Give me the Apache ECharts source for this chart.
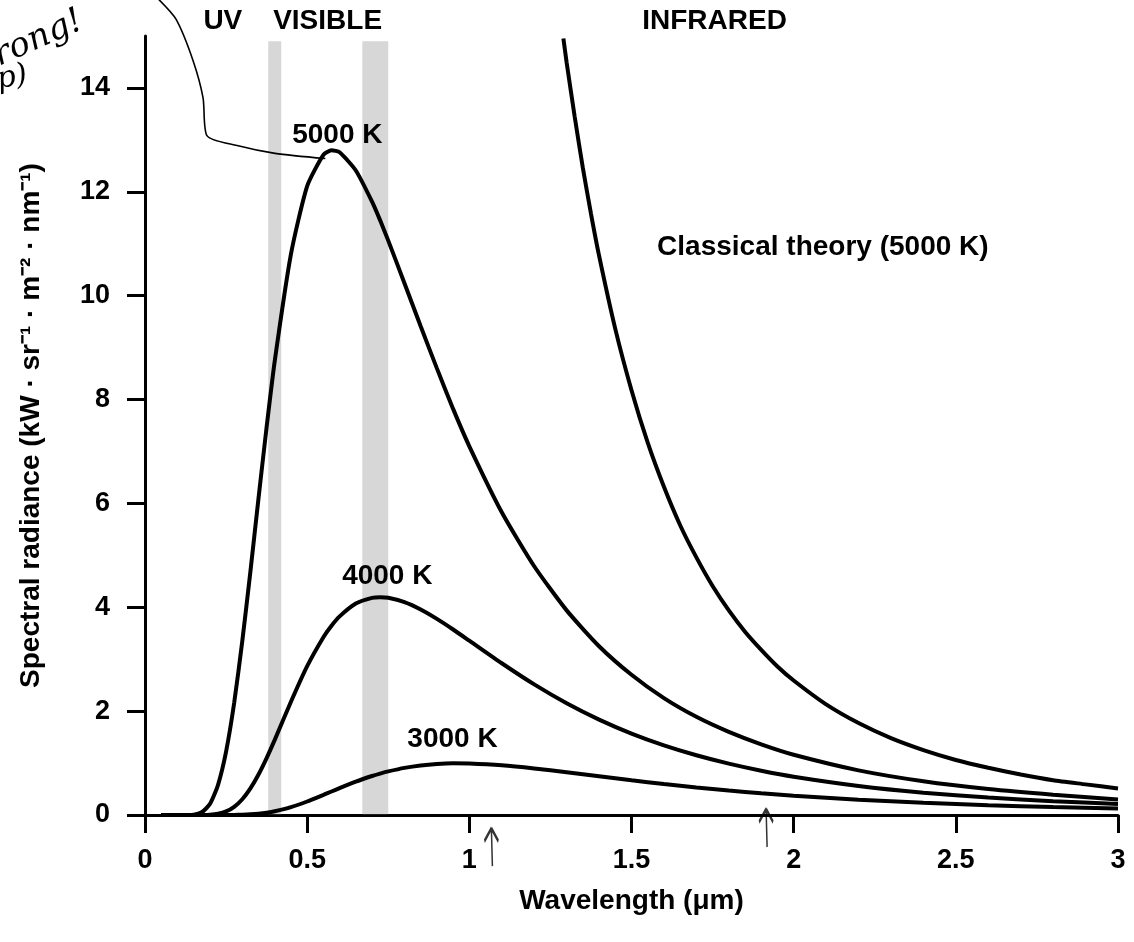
<!DOCTYPE html>
<html>
<head>
<meta charset="utf-8">
<script src="https://cdn.jsdelivr.net/npm/echarts@6/dist/echarts.min.js"></script>
<style>
html,body{margin:0;padding:0;background:#fff;}
#chart{width:1134px;height:942px;}
</style>
</head>
<body>
<div id="chart"></div>
<script>
// ---- data ----
const wavelengths = [0.05, 0.1, 0.15, 0.175, 0.2, 0.225, 0.25, 0.275, 0.3, 0.325, 0.35, 0.375, 0.4, 0.45, 0.5, 0.55, 0.575, 0.6, 0.65, 0.7, 0.725, 0.75, 0.8, 0.85, 0.9, 0.95, 1.0, 1.1, 1.2, 1.3, 1.4, 1.5, 1.6, 1.7, 1.8, 1.9, 2.0, 2.2, 2.4, 2.6, 2.8, 3.0];
const radiance5000 = [0, 0, 0.007, 0.052, 0.21, 0.577, 1.22, 2.16, 3.35, 4.69, 6.10, 7.47, 8.74, 10.80, 12.11, 12.71, 12.80, 12.76, 12.41, 11.81, 11.45, 11.06, 10.24, 9.41, 8.60, 7.82, 7.10, 5.83, 4.79, 3.94, 3.25, 2.70, 2.25, 1.89, 1.60, 1.36, 1.16, 0.86, 0.65, 0.50, 0.39, 0.30];
const radiance4000 = [0, 0, 0, 0.001, 0.006, 0.024, 0.069, 0.158, 0.304, 0.513, 0.781, 1.097, 1.446, 2.180, 2.865, 3.423, 3.644, 3.825, 4.072, 4.181, 4.194, 4.182, 4.098, 3.957, 3.776, 3.572, 3.356, 2.922, 2.515, 2.152, 1.837, 1.568, 1.341, 1.150, 0.989, 0.853, 0.738, 0.560, 0.430, 0.335, 0.265, 0.212];
const radiance3000 = [0, 0, 0, 0, 0, 0.0001, 0.0006, 0.002, 0.0056, 0.0128, 0.0253, 0.0448, 0.0722, 0.152, 0.260, 0.387, 0.452, 0.517, 0.642, 0.751, 0.798, 0.840, 0.908, 0.955, 0.983, 0.995, 0.992, 0.957, 0.896, 0.822, 0.745, 0.668, 0.597, 0.531, 0.472, 0.419, 0.372, 0.295, 0.235, 0.188, 0.152, 0.124];

const classicalX = [1.29, 1.3, 1.325, 1.35, 1.375, 1.4, 1.45, 1.5, 1.55, 1.6, 1.65, 1.7, 1.75, 1.8, 1.85, 1.9, 1.95, 2.0, 2.1, 2.2, 2.3, 2.4, 2.5, 2.6, 2.7, 2.8, 2.9, 3.0];
const classicalY = [14.95, 14.49, 13.44, 12.46, 11.58, 10.77, 9.36, 8.18, 7.17, 6.32, 5.58, 4.96, 4.41, 3.94, 3.53, 3.18, 2.86, 2.59, 2.13, 1.77, 1.48, 1.25, 1.06, 0.91, 0.78, 0.67, 0.59, 0.51];

// hand-drawn annotation line
const handX = [0.043, 0.096, 0.148, 0.179, 0.191, 0.284, 0.401, 0.556];
const handY = [15.70, 15.32, 14.53, 13.81, 13.08, 12.89, 12.74, 12.64];

// hand-drawn arrows under the axis
const arrowX = [1.068, 1.915];
const arrowY = [-0.62, -0.25];

// stippled visible-light edges
const bandStart = [0.38, 0.67];
const bandEnd = [0.42, 0.75];
const bandTop = 14.9;

// text labels
const labelText = ['5000 K', '4000 K', '3000 K', 'Classical theory (5000 K)', 'UV', 'VISIBLE', 'INFRARED'];
const labelX = [0.593, 0.747, 0.948, 2.09, 0.24, 0.563, 1.756];
const labelY = [13.08, 4.6, 1.46, 10.94, 15.28, 15.28, 15.28];

const xTicks = [0, 0.5, 1, 1.5, 2, 2.5, 3];
const yTicks = [0, 2, 4, 6, 8, 10, 12, 14];

// ---- build ----
const zip = (a, b) => a.map((v, i) => [v, b[i]]);
const FONT = '"Liberation Sans", Arial, sans-serif';
const chart = echarts.init(document.getElementById('chart'), null, {renderer: 'canvas'});

const curveStyle = {color: '#000', width: 4};

const option = {
  backgroundColor: '#fff',
  animation: false,
  grid: {left: 145, right: 16, top: 36, bottom: 127, containLabel: false},
  xAxis: {
    type: 'value', min: 0, max: 3, interval: 0.5,
    name: 'Wavelength (μm)', nameLocation: 'middle', nameGap: 72,
    nameTextStyle: {fontFamily: FONT, fontWeight: 'bold', fontSize: 28, color: '#000'},
    axisLine: {show: true, onZero: false, lineStyle: {color: '#000', width: 3}},
    axisTick: {show: true, length: 18, lineStyle: {color: '#000', width: 3}, customValues: xTicks},
    axisLabel: {margin: 32, fontFamily: FONT, fontWeight: 'bold', fontSize: 27, color: '#000', customValues: xTicks,
      formatter: v => String(v)},
    splitLine: {show: false}
  },
  yAxis: {
    type: 'value', min: 0, max: 15,
    name: 'Spectral radiance (kW · sr⁻¹ · m⁻² · nm⁻¹)', nameLocation: 'middle', nameGap: 100, nameRotate: 90,
    nameTextStyle: {fontFamily: FONT, fontWeight: 'bold', fontSize: 28, color: '#000'},
    axisLine: {show: true, onZero: false, lineStyle: {color: '#000', width: 3}},
    axisTick: {show: true, length: 18, lineStyle: {color: '#000', width: 3}, customValues: yTicks},
    axisLabel: {margin: 35, fontFamily: FONT, fontWeight: 'bold', fontSize: 27, color: '#000', customValues: yTicks},
    splitLine: {show: false}
  },
  graphic: [
    {type: 'text', left: -38, top: 4, rotation: 0.42,
      style: {text: 'wrong!', font: 'italic 34px "DejaVu Serif", serif', fill: '#000'}},
    {type: 'text', left: -6, top: 60, rotation: 0.2,
      style: {text: 'p)', font: 'italic 30px "DejaVu Serif", serif', fill: '#000'}}
  ],
  series: [
    {
      type: 'line', name: '5000 K', data: zip(wavelengths, radiance5000),
      showSymbol: false, smooth: 0.2, lineStyle: curveStyle, z: 5,
      markArea: {
        silent: true,
        itemStyle: {color: 'rgba(110,110,110,0.28)'},
        data: bandStart.map((s, i) => [{xAxis: s, yAxis: 0}, {xAxis: bandEnd[i], yAxis: bandTop}])
      }
    },
    {type: 'line', name: '4000 K', data: zip(wavelengths, radiance4000),
      showSymbol: false, smooth: 0.2, lineStyle: curveStyle, z: 5},
    {type: 'line', name: '3000 K', data: zip(wavelengths, radiance3000),
      showSymbol: false, smooth: 0.2, lineStyle: curveStyle, z: 5},
    {type: 'line', name: 'Classical', data: zip(classicalX, classicalY),
      showSymbol: false, smooth: 0.2, lineStyle: curveStyle, z: 5},
    {type: 'line', name: 'hand', data: zip(handX, handY), clip: false,
      showSymbol: false, smooth: 0.25, lineStyle: {color: '#000', width: 1.6}, z: 6},
    {
      type: 'scatter', name: 'arrows', clip: false, silent: true,
      data: zip(arrowX, arrowY),
      symbol: 'path://M7,0 L0,13 M7,0 L14,13 M7,0 L8,38',
      symbolSize: [14, 38],
      itemStyle: {color: 'rgba(0,0,0,0)', borderColor: '#000', borderWidth: 2.5}
    },
    {
      type: 'scatter', name: 'labels', clip: false, silent: true,
      symbolSize: 0,
      data: labelText.map((t, i) => ({name: t, value: [labelX[i], labelY[i]]})),
      label: {show: true, position: 'inside', formatter: p => p.name, textBorderWidth: 0,
        fontFamily: FONT, fontWeight: 'bold', fontSize: 28, color: '#000', opacity: 1},
      itemStyle: {opacity: 1},
      z: 7
    }
  ]
};
chart.setOption(option);
</script>
</body>
</html>
